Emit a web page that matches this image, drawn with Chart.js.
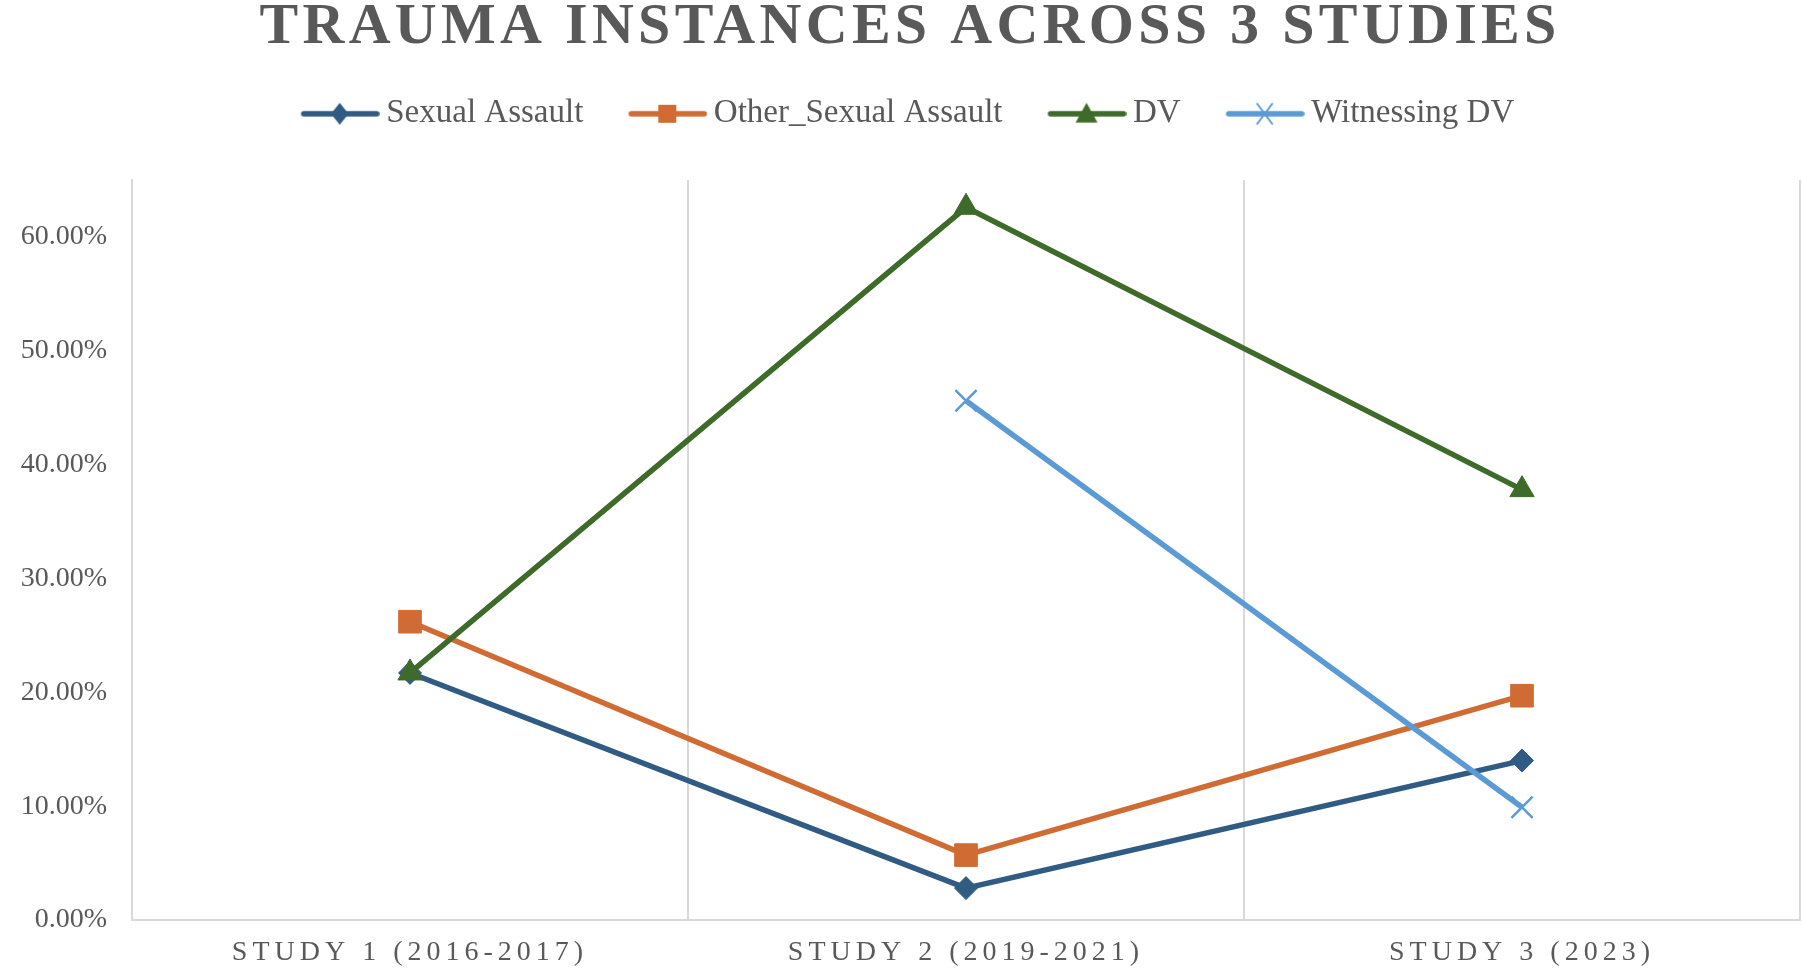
<!DOCTYPE html>
<html>
<head>
<meta charset="utf-8">
<title>Trauma instances across 3 studies</title>
<script src="https://cdn.jsdelivr.net/npm/chart.js@4/dist/chart.umd.min.js"></script>
<style>
  html, body { margin: 0; background: #fff; }
  canvas { display: block; }
</style>
</head>
<body>
<canvas id="chart" width="1803" height="973"></canvas>
<script>
// data (percent)
const studies = ["STUDY 1 (2016-2017)", "STUDY 2 (2019-2021)", "STUDY 3 (2023)"];
const sexualAssault = [21.7, 2.8, 14.0];
const otherSexualAssault = [26.2, 5.7, 19.7];
const dv = [21.7, 62.6, 37.8];
const witnessingDv = [null, 45.6, 9.9];
const yTicks = [0, 10, 20, 30, 40, 50, 60];

const SERIF = "'Liberation Serif', 'Times New Roman', serif";
const TEXT = "#595959";
const GRID = "#D9D9D9";
const colors = ["#305C84", "#D06C33", "#3E6B2A", "#5B9BD5"];

// small marker drawer for legend icons (line + marker like Excel)
function drawMarker(g, style, x, y, r) {
    g.beginPath();
    if (style === "rectRot") {
        g.moveTo(x, y - r); g.lineTo(x + r * 0.8, y); g.lineTo(x, y + r); g.lineTo(x - r * 0.8, y);
        g.closePath(); g.fill();
    } else if (style === "rect") {
        g.rect(x - r, y - r, 2 * r, 2 * r); g.fill();
    } else if (style === "triangle") {
        g.moveTo(x, y - r); g.lineTo(x + r, y + r * 0.8); g.lineTo(x - r, y + r * 0.8);
        g.closePath(); g.fill();
    } else if (style === "crossRot") {
        g.lineWidth = 2;
        g.moveTo(x - r * 0.75, y - r); g.lineTo(x + r * 0.75, y + r);
        g.moveTo(x + r * 0.75, y - r); g.lineTo(x - r * 0.75, y + r);
        g.stroke();
    }
}

function legendIcon(color, style, r) {
    const c = document.createElement("canvas");
    c.width = 84; c.height = 30;
    const g = c.getContext("2d");
    g.strokeStyle = color; g.fillStyle = color;
    g.lineWidth = 5.5; g.lineCap = "round";
    g.beginPath(); g.moveTo(8, 15); g.lineTo(81, 15); g.stroke();
    drawMarker(g, style, 44, 15, r);
    return c;
}

const styles = ["rectRot", "rect", "triangle", "crossRot"];
const icons = [
    legendIcon(colors[0], styles[0], 11),
    legendIcon(colors[1], styles[1], 9),
    legendIcon(colors[2], styles[2], 11),
    legendIcon(colors[3], styles[3], 10)
];

// canvas letterSpacing for the title and the category labels
function withSpacing(obj, method, px) {
    if (!obj || obj[method]._spaced) return;
    const orig = obj[method];
    const fn = function (...args) {
        const ctx = this.ctx;
        ctx.save();
        ctx.letterSpacing = px;
        orig.apply(this, args);
        ctx.restore();
    };
    fn._spaced = true;
    obj[method] = fn;
}

const spacingPlugin = {
    id: "spacing",
    afterLayout(chart) {
        withSpacing(chart.titleBlock, "draw", "4.3px");
        withSpacing(chart.scales.x, "drawLabels", "5px");
    }
};

function makeSet(label, data, i, radius, order, extra) {
    return Object.assign({
        label: label,
        data: data,
        borderColor: colors[i],
        backgroundColor: colors[i],
        borderWidth: 5.5,
        pointStyle: styles[i],
        pointRadius: radius,
        pointHoverRadius: radius,
        pointBorderWidth: 1,
        pointBackgroundColor: colors[i],
        pointBorderColor: colors[i],
        tension: 0,
        order: order
    }, extra || {});
}

const ctx = document.getElementById("chart").getContext("2d");

new Chart(ctx, {
    type: "line",
    data: {
        labels: studies,
        datasets: [
            makeSet("Sexual Assault", sexualAssault, 0, 11.5, 4),
            makeSet("Other_Sexual Assault", otherSexualAssault, 1, 16, 3),
            makeSet("DV", dv, 2, 14, 2),
            makeSet("Witnessing DV", witnessingDv, 3, 15, 1, { pointBorderWidth: 2.5 })
        ]
    },
    options: {
        responsive: false,
        animation: false,
        layout: { autoPadding: false, padding: { left: 20, right: 3, top: 0, bottom: 3 } },
        plugins: {
            title: {
                display: true,
                text: "TRAUMA INSTANCES ACROSS 3 STUDIES",
                color: TEXT,
                font: { family: SERIF, size: 58, weight: "bold", lineHeight: 0.97 },
                padding: { top: 0, bottom: -9 }
            },
            subtitle: {
                // empty spacer between legend and plot area
                display: true,
                text: "",
                position: "top",
                weight: 500,
                font: { size: 10, lineHeight: 1 },
                padding: { top: 0, bottom: 29.7 }
            },
            legend: {
                position: "top",
                labels: {
                    color: TEXT,
                    font: { family: SERIF, size: 33 },
                    usePointStyle: true,
                    pointStyleWidth: 64,
                    padding: 50,
                    generateLabels(chart) {
                        const items = Chart.defaults.plugins.legend.labels.generateLabels(chart);
                        items.sort((a, b) => a.datasetIndex - b.datasetIndex);
                        items.forEach(it => { it.pointStyle = icons[it.datasetIndex]; });
                        return items;
                    }
                }
            },
            tooltip: { enabled: false }
        },
        scales: {
            x: {
                offset: true,
                afterFit(scale) {
                    scale.height = 50;
                    scale.paddingLeft = 0;
                    scale.paddingRight = 0;
                },
                grid: { offset: true, color: GRID, lineWidth: 2, drawTicks: false },
                border: { display: true, color: GRID, width: 2 },
                ticks: {
                    padding: 16,
                    color: TEXT,
                    font: { family: SERIF, size: 28 },
                    maxRotation: 0,
                    autoSkip: false
                }
            },
            y: {
                min: 0,
                max: 65,
                afterBuildTicks(scale) {
                    scale.ticks = yTicks.map(v => ({ value: v }));
                },
                afterFit(scale) { scale.width = 112; },
                grid: { display: false, drawTicks: false },
                border: { display: true, color: GRID, width: 2 },
                ticks: {
                    padding: 25,
                    color: TEXT,
                    font: { family: SERIF, size: 28 },
                    callback: v => v.toFixed(2) + "%"
                }
            }
        }
    },
    plugins: [spacingPlugin]
});
</script>
</body>
</html>
